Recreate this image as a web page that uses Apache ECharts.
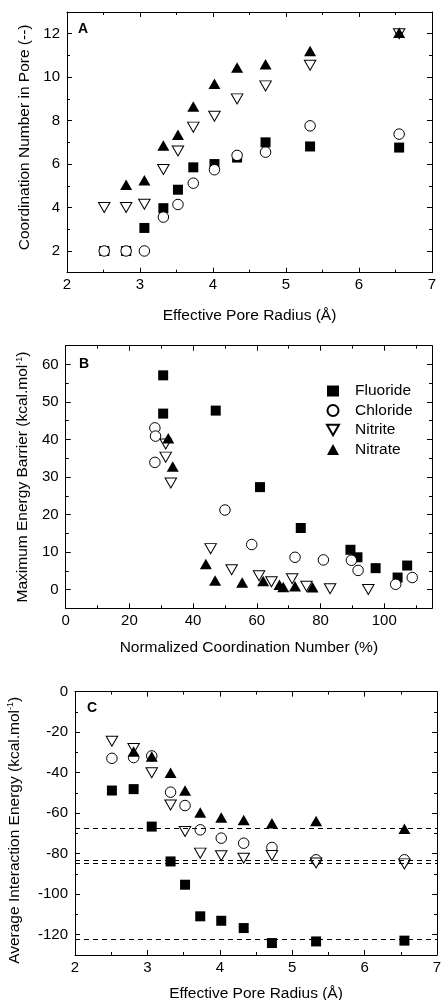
<!DOCTYPE html>
<html><head><meta charset="utf-8">
<script src="https://cdn.jsdelivr.net/npm/echarts@6/dist/echarts.min.js"></script>
<style>html,body{margin:0;padding:0;background:#fff}#c{width:442px;height:1000px}</style>
</head><body><div id="c"></div>
<script>
// ---------- data ----------
const seriesNames = ['Fluoride', 'Chloride', 'Nitrite', 'Nitrate'];
const radii = [2.51, 2.81, 3.06, 3.32, 3.52, 3.73, 4.02, 4.33, 4.72, 5.33, 6.55];

// Panel A: coordination number in pore
const fluorideA = [2.0, 2.0, 3.06, 3.97, 4.82, 5.85, 6.0, 6.3, 7.0, 6.81, 6.76];
const chlorideA = [2.0, 2.0, 2.0, 3.56, 4.14, 5.12, 5.74, 6.4, 6.55, 7.76, 7.38];
const nitriteA  = [4.0, 4.0, 4.15, 5.75, 6.6, 7.7, 8.2, 9.0, 9.6, 10.55, 12.0];
const nitrateA  = [null, 5.05, 5.25, 6.85, 7.35, 8.65, 9.7, 10.45, 10.6, 11.2, 12.05];

// Panel B: [normalized coordination number %, max energy barrier]
const fluorideB = [[30.6, 57.1], [30.6, 46.9], [47.1, 47.7], [61.0, 27.3], [73.8, 16.4], [89.4, 10.6], [91.6, 8.6], [97.3, 5.7], [104.2, 3.2], [107.2, 6.4]];
const chlorideB = [[28.0, 43.1], [28.2, 40.9], [28.0, 33.9], [50.0, 21.2], [58.4, 12.0], [72.0, 8.6], [80.9, 7.9], [89.7, 7.8], [91.8, 5.1], [103.6, 1.4], [108.8, 3.2]];
const nitriteB  = [[31.4, 38.8], [31.4, 35.3], [33.0, 28.4], [45.5, 10.9], [52.1, 5.3], [60.7, 3.7], [64.6, 2.1], [71.1, 2.9], [75.6, 0.9], [83.0, 0.2], [95.0, 0.0]];
const nitrateB  = [[32.2, 40.3], [33.6, 32.8], [44.0, 6.8], [46.9, 2.4], [55.4, 1.9], [62.0, 2.3], [67.1, 1.3], [68.3, 0.7], [72.0, 0.9], [77.5, 0.6]];

// Panel C: average interaction energy
const fluorideC = [-48.8, -48.1, -66.6, -83.8, -95.3, -110.9, -113.1, -116.7, -124.1, -123.3, -122.9];
const chlorideC = [-32.9, -32.5, -31.7, -49.6, -56.2, -68.2, -72.3, -74.8, -76.9, -83.0, -83.0];
const nitriteC  = [-24.5, -28.0, -40.0, -55.9, -69.0, -79.7, -81.0, -82.2, -80.9, -84.6, -85.0];
const nitrateC  = [null, -29.5, -32.0, -40.0, -48.8, -59.7, -62.1, -63.3, -64.9, -63.8, -67.7];
const dashLevelsC = [-67.5, -83.0, -84.5, -122.0];

// ticks
const radiusTicks = [2, 3, 4, 5, 6, 7];
const radiusMinor = [2.5, 3.5, 4.5, 5.5, 6.5];
const coordTicks = [2, 4, 6, 8, 10, 12];
const coordMinor = [1, 3, 5, 7, 9, 11, 13];
const normTicks = [0, 20, 40, 60, 80, 100];
const normMinor = [10, 30, 50, 70, 90, 110];
const barrierTicks = [0, 10, 20, 30, 40, 50, 60];
const barrierMinor = [-5, 5, 15, 25, 35, 45, 55, 65];
const energyTicks = [0, -20, -40, -60, -80, -100, -120];
const energyMinor = [-10, -30, -50, -70, -90, -110, -130];

// ---------- helpers ----------
const FONT = '"Liberation Sans", Arial, sans-serif';
const BLACK = '#000';
const xAxes = [], yAxes = [], grids = [];

function addPanel(rect, xs, ys) {
  const g = grids.length;
  grids.push(Object.assign({outerBoundsMode: 'none', containLabel: false}, rect));
  grids.push(Object.assign({outerBoundsMode: 'none', containLabel: false}, rect));
  const base = (ax, pos, major, showLbl, gi) => ({
    gridIndex: gi, type: 'value', position: pos, min: ax.min, max: ax.max,
    axisLine: {show: true, onZero: false, lineStyle: {color: BLACK, width: 1}},
    axisTick: {show: true, inside: true, length: 5, customValues: major, lineStyle: {color: BLACK, width: 1}},
    axisLabel: showLbl ? {show: true, customValues: major, margin: ax.margin, color: BLACK, fontSize: 15, fontFamily: FONT}
                       : {show: false},
    splitLine: {show: false}, minorTick: {show: false}
  });
  const minor = (ax, pos, vals, gi) => ({
    gridIndex: gi, type: 'value', position: pos, min: ax.min, max: ax.max,
    axisLine: {show: false, onZero: false},
    axisTick: {show: true, inside: true, length: 3, customValues: vals, lineStyle: {color: BLACK, width: 1}},
    axisLabel: {show: false}, splitLine: {show: false}
  });
  const xi = xAxes.length, yi = yAxes.length;
  const xb = base(xs, 'bottom', xs.major, true, g);
  Object.assign(xb, {name: xs.name, nameLocation: 'middle', nameGap: xs.nameGap,
    nameTextStyle: {color: BLACK, fontSize: 15.5, fontFamily: FONT}});
  xAxes.push(xb, base(xs, 'top', xs.major, false, g),
             minor(xs, 'bottom', xs.minor, g + 1), minor(xs, 'top', xs.minor, g + 1));
  const yl = base(ys, 'left', ys.major, true, g);
  Object.assign(yl, {name: ys.name, nameLocation: 'middle', nameGap: ys.nameGap,
    nameTextStyle: {color: BLACK, fontSize: 15.5, fontFamily: FONT, padding: ys.namePad || 0,
      rich: {sup: {fontSize: 9, fontFamily: FONT, color: BLACK, padding: [0, 0, 8, 0]}}}});
  yAxes.push(yl, base(ys, 'right', ys.major, false, g),
             minor(ys, 'left', ys.minor, g + 1), minor(ys, 'right', ys.minor, g + 1));
  return {xi, yi};
}

const pA = addPanel({left: 67, top: 12, width: 365, height: 260.7},
  {min: 2, max: 7, major: radiusTicks, minor: radiusMinor, margin: 5, name: 'Effective Pore Radius (Å)', nameGap: 35},
  {min: 1, max: 13, major: coordTicks, minor: coordMinor, margin: 7, name: 'Coordination Number in Pore (--)', nameGap: 31, namePad: [0, 0, 0, 10]});
const pB = addPanel({left: 65.7, top: 345.7, width: 366.3, height: 262.6},
  {min: 0, max: 115, major: normTicks, minor: normMinor, margin: 5, name: 'Normalized Coordination Number (%)', nameGap: 31},
  {min: -5, max: 65, major: barrierTicks, minor: barrierMinor, margin: 7, name: 'Maximum Energy Barrier (kcal.mol{sup|-1})', nameGap: 33});
const pC = addPanel({left: 75, top: 691.7, width: 362, height: 263.3},
  {min: 2, max: 7, major: radiusTicks, minor: radiusMinor, margin: 5, name: 'Effective Pore Radius (Å)', nameGap: 31},
  {min: -130, max: 0, major: energyTicks, minor: energyMinor, margin: 7, name: 'Average Interaction Energy (kcal.mol{sup|-1})', nameGap: 52, namePad: [0, 14, 0, 0]});

const styles = {
  Fluoride: {symbol: 'rect', symbolSize: 10, itemStyle: {color: BLACK, borderColor: BLACK, borderWidth: 0, opacity: 1}},
  Chloride: {symbol: 'circle', symbolSize: 10.5, itemStyle: {color: '#fff', borderColor: BLACK, borderWidth: 1, opacity: 1}},
  Nitrite:  {symbol: 'path://M0,0L12,0L6,10.4Z', symbolSize: [11.5, 10], itemStyle: {color: '#fff', borderColor: BLACK, borderWidth: 1, opacity: 1}},
  Nitrate:  {symbol: 'triangle', symbolSize: [12, 10.5], itemStyle: {color: BLACK, borderColor: BLACK, borderWidth: 0, opacity: 1}}
};

function pair(xv, yv) { return xv.map((x, i) => [x, yv[i]]).filter(p => p[1] !== null); }

const series = [];
function addSeries(name, p, data, extra) {
  series.push(Object.assign({type: 'scatter', name, xAxisIndex: p.xi, yAxisIndex: p.yi, data,
    animation: false, emphasis: {disabled: true}}, styles[name], extra || {}));
}
addSeries('Fluoride', pA, pair(radii, fluorideA));
addSeries('Chloride', pA, pair(radii, chlorideA));
addSeries('Nitrite', pA, pair(radii, nitriteA));
addSeries('Nitrate', pA, pair(radii, nitrateA));
addSeries('Fluoride', pB, fluorideB);
addSeries('Chloride', pB, chlorideB);
addSeries('Nitrite', pB, nitriteB);
addSeries('Nitrate', pB, nitrateB);
addSeries('Fluoride', pC, pair(radii, fluorideC), {
  markLine: {silent: true, symbol: ['none', 'none'], label: {show: false}, animation: false,
    lineStyle: {color: BLACK, width: 1, type: [5, 4], opacity: 1}, emphasis: {disabled: true},
    data: dashLevelsC.map(v => ({yAxis: v}))}
});
addSeries('Chloride', pC, pair(radii, chlorideC));
addSeries('Nitrite', pC, pair(radii, nitriteC));
addSeries('Nitrate', pC, pair(radii, nitrateC));

const letterStyle = {font: 'bold 14px ' + FONT, fill: BLACK};
const option = {
  backgroundColor: '#fff',
  animation: false,
  grid: grids,
  xAxis: xAxes,
  yAxis: yAxes,
  legend: {
    data: seriesNames, orient: 'vertical', left: 321, top: 378, itemWidth: 12, itemHeight: 11, itemGap: 3.5,
    selectedMode: false,
    textStyle: {color: BLACK, fontSize: 15.5, fontFamily: FONT, padding: [0, 0, 0, 11]}
  },
  graphic: [
    {type: 'text', left: 78, top: 22, style: Object.assign({text: 'A'}, letterStyle)},
    {type: 'text', left: 79, top: 357, style: Object.assign({text: 'B'}, letterStyle)},
    {type: 'text', left: 87, top: 701, style: Object.assign({text: 'C'}, letterStyle)}
  ],
  series
};
const chart = echarts.init(document.getElementById('c'), null, {renderer: 'canvas'});
chart.setOption(option);
</script></body></html>
